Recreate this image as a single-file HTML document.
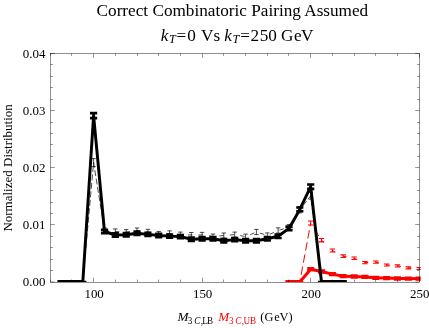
<!DOCTYPE html>
<html><head><meta charset="utf-8"><title>plot</title>
<style>
html,body{margin:0;padding:0;background:#fff;}
body{width:429px;height:328px;overflow:hidden;font-family:"Liberation Serif",serif;}
svg{display:block;will-change:transform;font-family:"Liberation Serif",serif;}
text{font-size:13px;fill:#000;}
.i{font-style:italic;}
</style></head><body>
<svg width="429" height="328" viewBox="0 0 429 328">
<defs><clipPath id="c"><rect x="50.00" y="53.00" width="370.70" height="229.00"/></clipPath></defs>
<rect width="429" height="328" fill="#fff"/>
<g clip-path="url(#c)">
<polyline points="299.8,282.0 310.7,223.0" fill="none" stroke="#f00" stroke-width="1.0" stroke-dasharray="8.5 3.8" stroke-dashoffset="5"/>
<polyline points="310.7,223.0 321.5,240.2" fill="none" stroke="#f00" stroke-width="1.0" stroke-dasharray="0 8.6 6.6 30"/>
<polyline points="321.5,240.2 332.4,250.5" fill="none" stroke="#f00" stroke-width="1.0" stroke-dasharray="3.4 100"/>
<rect x="285.5" y="280" width="15.4" height="2" fill="#f00"/>
<polyline points="332.4,250.5 343.2,256.2" fill="none" stroke="#f00" stroke-width="1.0" stroke-dasharray="3.4 100"/>
<polyline points="343.2,256.2 354.1,258.3" fill="none" stroke="#f00" stroke-width="1.0" stroke-dasharray="3.4 100"/>
<polyline points="354.1,258.3 364.9,262.6" fill="none" stroke="#f00" stroke-width="1.0" stroke-dasharray="3.4 100"/>
<polyline points="364.9,262.6 375.8,262.1" fill="none" stroke="#f00" stroke-width="1.0" stroke-dasharray="3.4 100"/>
<polyline points="375.8,262.1 386.6,265.0" fill="none" stroke="#f00" stroke-width="1.0" stroke-dasharray="3.4 100"/>
<polyline points="386.6,265.0 397.5,265.9" fill="none" stroke="#f00" stroke-width="1.0" stroke-dasharray="3.4 100"/>
<polyline points="397.5,265.9 408.3,267.9" fill="none" stroke="#f00" stroke-width="1.0" stroke-dasharray="3.4 100"/>
<polyline points="408.3,267.9 419.2,268.5" fill="none" stroke="#f00" stroke-width="1.0" stroke-dasharray="3.4 100"/>
<path d="M310.7 221.00V225.00M308.0 221.00H313.4M308.0 225.00H313.4M321.5 238.51V241.89M318.8 238.51H324.2M318.8 241.89H324.2M332.4 249.04V251.96M329.7 249.04H335.1M329.7 251.96H335.1M343.2 254.88V257.52M340.5 254.88H345.9M340.5 257.52H345.9M354.1 257.03V259.57M351.4 257.03H356.8M351.4 259.57H356.8M364.9 261.45V263.75M362.2 261.45H367.6M362.2 263.75H367.6M375.8 260.94V263.26M373.1 260.94H378.5M373.1 263.26H378.5M386.6 263.93V266.07M383.9 263.93H389.3M383.9 266.07H389.3M397.5 264.85V266.95M394.8 264.85H400.2M394.8 266.95H400.2M408.3 266.92V268.88M405.6 266.92H411.0M405.6 268.88H411.0M419.2 267.54V269.46M416.5 267.54H421.9M416.5 269.46H421.9" stroke="#f00" stroke-width="1.1" fill="none"/>
<polyline points="289.0,282.0 299.8,282.0 310.7,269.2 321.5,271.5 332.4,274.1 343.2,276.2 354.1,276.5 364.9,276.9 375.8,277.8 386.6,278.1 397.5,278.5 408.3,278.6 419.2,278.7" fill="none" stroke="#f00" stroke-width="3.0" stroke-linejoin="round"/>
<path d="M289.0 282.00V282.00M285.5 282.00H292.5M285.5 282.00H292.5M299.8 282.00V282.00M296.3 282.00H303.3M296.3 282.00H303.3M310.7 268.10V270.30M307.2 268.10H314.2M307.2 270.30H314.2M321.5 270.40V272.60M318.0 270.40H325.0M318.0 272.60H325.0M332.4 273.00V275.20M328.9 273.00H335.9M328.9 275.20H335.9M343.2 275.10V277.30M339.7 275.10H346.7M339.7 277.30H346.7M354.1 275.40V277.60M350.6 275.40H357.6M350.6 277.60H357.6M364.9 275.80V278.00M361.4 275.80H368.4M361.4 278.00H368.4M375.8 276.70V278.90M372.3 276.70H379.3M372.3 278.90H379.3M386.6 277.00V279.20M383.1 277.00H390.1M383.1 279.20H390.1M397.5 277.40V279.60M394.0 277.40H401.0M394.0 279.60H401.0M408.3 277.50V279.70M404.8 277.50H411.8M404.8 279.70H411.8M419.2 277.60V279.80M415.7 277.60H422.7M415.7 279.80H422.7" stroke="#f00" stroke-width="2.1" fill="none"/>
<polyline points="82.8,282.0 93.6,162.6 104.5,230.5" fill="none" stroke="#000" stroke-width="0.7" stroke-dasharray="6 2.5"/>
<polyline points="104.5,230.5 115.3,231.5 126.2,232.2 137.0,230.6 147.9,231.9 158.7,234.0 169.6,233.4 180.4,234.6 191.3,235.0 202.1,234.9 213.0,236.5 223.8,235.5 234.7,234.6 245.6,236.6 256.4,232.0 267.3,235.4 278.1,230.5 289.0,227.2" fill="none" stroke="#000" stroke-width="0.7" stroke-dasharray="4.5 6"/>
<polyline points="289.0,227.2 299.8,209.8 310.7,195.8 321.5,282.0" fill="none" stroke="#000" stroke-width="0.7" stroke-dasharray="6 2.5"/>
<path d="M61.1 282.00V282.00M58.9 282.00H63.3M58.9 282.00H63.3M71.9 282.00V282.00M69.7 282.00H74.1M69.7 282.00H74.1M82.8 282.00V282.00M80.6 282.00H85.0M80.6 282.00H85.0M93.6 158.60V166.60M91.4 158.60H95.8M91.4 166.60H95.8M104.5 227.87V233.13M102.3 227.87H106.7M102.3 233.13H106.7M115.3 228.90V234.10M113.1 228.90H117.5M113.1 234.10H117.5M126.2 229.61V234.79M124.0 229.61H128.4M124.0 234.79H128.4M137.0 227.97V233.23M134.8 227.97H139.2M134.8 233.23H139.2M147.9 229.31V234.49M145.7 229.31H150.1M145.7 234.49H150.1M158.7 231.46V236.54M156.5 231.46H160.9M156.5 236.54H160.9M169.6 230.85V235.95M167.4 230.85H171.8M167.4 235.95H171.8M180.4 232.08V237.12M178.2 232.08H182.6M178.2 237.12H182.6M191.3 232.49V237.51M189.1 232.49H193.5M189.1 237.51H193.5M202.1 232.38V237.42M199.9 232.38H204.3M199.9 237.42H204.3M213.0 234.03V238.97M210.8 234.03H215.2M210.8 238.97H215.2M223.8 233.00V238.00M221.6 233.00H226.0M221.6 238.00H226.0M234.7 232.08V237.12M232.5 232.08H236.9M232.5 237.12H236.9M245.6 234.13V239.07M243.4 234.13H247.8M243.4 239.07H247.8M256.4 229.41V234.59M254.2 229.41H258.6M254.2 234.59H258.6M267.3 232.90V237.90M265.1 232.90H269.5M265.1 237.90H269.5M278.1 227.87V233.13M275.9 227.87H280.3M275.9 233.13H280.3M289.0 224.49V229.91M286.8 224.49H291.2M286.8 229.91H291.2M299.8 206.69V212.91M297.6 206.69H302.0M297.6 212.91H302.0M310.7 192.40V199.20M308.5 192.40H312.9M308.5 199.20H312.9M321.5 282.00V282.00M319.3 282.00H323.7M319.3 282.00H323.7M332.4 282.00V282.00M330.2 282.00H334.6M330.2 282.00H334.6M343.2 282.00V282.00M341.0 282.00H345.4M341.0 282.00H345.4" stroke="#000" stroke-width="0.7" fill="none"/>
<polyline points="61.1,282.0 71.9,282.0 82.8,282.0 93.6,115.6 104.5,231.5 115.3,235.0 126.2,234.8 137.0,233.2 147.9,234.4 158.7,235.5 169.6,236.1 180.4,236.6 191.3,239.3 202.1,238.8 213.0,238.7 223.8,240.7 234.7,239.6 245.6,240.7 256.4,240.8 267.3,238.8 278.1,236.3 289.0,228.4 299.8,209.4 310.7,186.7 321.5,282.0 332.4,282.0 343.2,282.0" fill="none" stroke="#000" stroke-width="2.95" stroke-linejoin="bevel"/>
<path d="M61.1 282.00V282.00M57.5 282.00H64.7M57.5 282.00H64.7M71.9 282.00V282.00M68.3 282.00H75.5M68.3 282.00H75.5M82.8 282.00V282.00M79.2 282.00H86.4M79.2 282.00H86.4M93.6 113.10V118.10M90.0 113.10H97.2M90.0 118.10H97.2M104.5 229.85V233.15M100.9 229.85H108.1M100.9 233.15H108.1M115.3 233.35V236.65M111.7 233.35H118.9M111.7 236.65H118.9M126.2 233.15V236.45M122.6 233.15H129.8M122.6 236.45H129.8M137.0 231.55V234.85M133.4 231.55H140.6M133.4 234.85H140.6M147.9 232.75V236.05M144.3 232.75H151.5M144.3 236.05H151.5M158.7 233.85V237.15M155.1 233.85H162.3M155.1 237.15H162.3M169.6 234.45V237.75M166.0 234.45H173.2M166.0 237.75H173.2M180.4 234.95V238.25M176.8 234.95H184.0M176.8 238.25H184.0M191.3 237.65V240.95M187.7 237.65H194.9M187.7 240.95H194.9M202.1 237.15V240.45M198.5 237.15H205.7M198.5 240.45H205.7M213.0 237.05V240.35M209.4 237.05H216.6M209.4 240.35H216.6M223.8 239.05V242.35M220.2 239.05H227.4M220.2 242.35H227.4M234.7 237.95V241.25M231.1 237.95H238.3M231.1 241.25H238.3M245.6 239.05V242.35M242.0 239.05H249.2M242.0 242.35H249.2M256.4 239.15V242.45M252.8 239.15H260.0M252.8 242.45H260.0M267.3 237.15V240.45M263.7 237.15H270.9M263.7 240.45H270.9M278.1 234.65V237.95M274.5 234.65H281.7M274.5 237.95H281.7M289.0 226.65V230.15M285.4 226.65H292.6M285.4 230.15H292.6M299.8 207.55V211.25M296.2 207.55H303.4M296.2 211.25H303.4M310.7 184.55V188.85M307.1 184.55H314.3M307.1 188.85H314.3M321.5 282.00V282.00M317.9 282.00H325.1M317.9 282.00H325.1M332.4 282.00V282.00M328.8 282.00H336.0M328.8 282.00H336.0M343.2 282.00V282.00M339.6 282.00H346.8M339.6 282.00H346.8" stroke="#000" stroke-width="2.6" fill="none"/>
<rect x="57.6" y="280" width="26.2" height="2" fill="#000"/>
<rect x="320.0" y="280" width="26.7" height="2" fill="#000"/>
</g>
<path d="M50.50 282.00v-2.40M50.50 53.50v2.40M71.50 282.00v-2.40M71.50 53.50v2.40M93.50 282.00v-4.30M93.50 53.50v4.30M115.50 282.00v-2.40M115.50 53.50v2.40M137.50 282.00v-2.40M137.50 53.50v2.40M158.50 282.00v-2.40M158.50 53.50v2.40M180.50 282.00v-2.40M180.50 53.50v2.40M202.50 282.00v-4.30M202.50 53.50v4.30M223.50 282.00v-2.40M223.50 53.50v2.40M245.50 282.00v-2.40M245.50 53.50v2.40M267.50 282.00v-2.40M267.50 53.50v2.40M288.50 282.00v-2.40M288.50 53.50v2.40M310.50 282.00v-4.30M310.50 53.50v4.30M332.50 282.00v-2.40M332.50 53.50v2.40M354.50 282.00v-2.40M354.50 53.50v2.40M375.50 282.00v-2.40M375.50 53.50v2.40M397.50 282.00v-2.40M397.50 53.50v2.40M419.50 282.00v-4.30M419.50 53.50v4.30M50.50 282.00h4.30M419.50 282.00h-4.30M50.50 270.50h2.40M419.50 270.50h-2.40M50.50 259.50h2.40M419.50 259.50h-2.40M50.50 247.50h2.40M419.50 247.50h-2.40M50.50 236.50h2.40M419.50 236.50h-2.40M50.50 224.50h4.30M419.50 224.50h-4.30M50.50 213.50h2.40M419.50 213.50h-2.40M50.50 202.50h2.40M419.50 202.50h-2.40M50.50 190.50h2.40M419.50 190.50h-2.40M50.50 179.50h2.40M419.50 179.50h-2.40M50.50 167.50h4.30M419.50 167.50h-4.30M50.50 156.50h2.40M419.50 156.50h-2.40M50.50 144.50h2.40M419.50 144.50h-2.40M50.50 133.50h2.40M419.50 133.50h-2.40M50.50 122.50h2.40M419.50 122.50h-2.40M50.50 110.50h4.30M419.50 110.50h-4.30M50.50 99.50h2.40M419.50 99.50h-2.40M50.50 87.50h2.40M419.50 87.50h-2.40M50.50 76.50h2.40M419.50 76.50h-2.40M50.50 64.50h2.40M419.50 64.50h-2.40M50.50 53.50h4.30M419.50 53.50h-4.30" stroke="#000" stroke-width="0.42" fill="none"/>
<rect x="50.50" y="53.50" width="369.00" height="228.75" fill="none" stroke="#000" stroke-width="0.44"/>
<g>
<text transform="translate(45.4,286.2) scale(0.965,1)" text-anchor="end" style="font-size:13.4px">0.00</text>
<text transform="translate(45.4,229.1) scale(0.965,1)" text-anchor="end" style="font-size:13.4px">0.01</text>
<text transform="translate(45.4,171.9) scale(0.965,1)" text-anchor="end" style="font-size:13.4px">0.02</text>
<text transform="translate(45.4,114.8) scale(0.965,1)" text-anchor="end" style="font-size:13.4px">0.03</text>
<text transform="translate(45.4,57.7) scale(0.965,1)" text-anchor="end" style="font-size:13.4px">0.04</text>
<text transform="translate(94.1,298.4) scale(0.965,1)" text-anchor="middle" style="font-size:13.4px">100</text>
<text transform="translate(202.6,298.4) scale(0.965,1)" text-anchor="middle" style="font-size:13.4px">150</text>
<text transform="translate(311.2,298.4) scale(0.965,1)" text-anchor="middle" style="font-size:13.4px">200</text>
<text transform="translate(419.7,298.4) scale(0.965,1)" text-anchor="middle" style="font-size:13.4px">250</text>
</g>
<text x="232.4" y="16" text-anchor="middle" style="font-size:17.2px">Correct Combinatoric Pairing Assumed</text>
<g>
<text y="40.5" style="font-size:17.2px"><tspan x="160.70" class="i" style="font-size:17.2px">k</tspan><tspan x="168.90" dy="2.4" class="i" style="font-size:12.2px">T</tspan><tspan x="176.50" dy="-2.4" style="font-size:17.2px">=</tspan><tspan x="187.35" style="font-size:17.2px">0</tspan><tspan x="201.00" style="font-size:17.2px">V</tspan><tspan x="213.40" style="font-size:17.2px">s</tspan><tspan x="224.20" class="i" style="font-size:17.2px">k</tspan><tspan x="232.40" dy="2.4" class="i" style="font-size:12.2px">T</tspan><tspan x="240.30" dy="-2.4" style="font-size:17.2px">=</tspan><tspan x="250.40" style="font-size:17.2px">2</tspan><tspan x="259.70" style="font-size:17.2px">5</tspan><tspan x="268.25" style="font-size:17.2px">0</tspan><tspan x="281.10" style="font-size:17.2px">G</tspan><tspan x="293.90" style="font-size:17.2px">e</tspan><tspan x="301.10" style="font-size:17.2px">V</tspan></text>
</g>
<g>
<text transform="translate(177.60,320.8) scale(1,1)" class="i" style="font-size:13.2px">M</text>
<text transform="translate(187.70,323.6) scale(0.86,1)" style="font-size:10.6px">3</text>
<text transform="translate(194.30,323.6) scale(0.86,1)" class="i" style="font-size:10.6px">C</text>
<text transform="translate(200.70,323.6) scale(0.86,1)" style="font-size:10.6px">,</text>
<text transform="translate(202.20,323.6) scale(0.86,1)" style="font-size:10.6px">L</text>
<text transform="translate(207.00,323.6) scale(0.86,1)" style="font-size:10.6px">B</text>
<text transform="translate(218.30,320.8) scale(1,1)" class="i" style="font-size:13.2px;fill:#f00">M</text>
<text transform="translate(229.00,323.6) scale(0.86,1)" style="font-size:10.6px;fill:#f00">3</text>
<text transform="translate(235.20,323.6) scale(0.86,1)" class="i" style="font-size:10.6px;fill:#f00">C</text>
<text transform="translate(241.70,323.6) scale(0.86,1)" style="font-size:10.6px;fill:#f00">,</text>
<text transform="translate(243.40,323.6) scale(0.86,1)" style="font-size:10.6px;fill:#f00">U</text>
<text transform="translate(249.90,323.6) scale(0.86,1)" style="font-size:10.6px;fill:#f00">B</text>
<text y="320.8" style="font-size:12.4px"><tspan x="260.30" style="font-size:12.4px">(</tspan><tspan x="264.50" style="font-size:12.4px">G</tspan><tspan x="274.20" style="font-size:12.4px">e</tspan><tspan x="279.55" style="font-size:12.4px">V</tspan><tspan x="288.50" style="font-size:12.4px">)</tspan></text>
</g>
<text transform="translate(11.8,231.6) rotate(-90)" style="font-size:13px">Normalized Distribution</text>
</svg>
</body></html>
